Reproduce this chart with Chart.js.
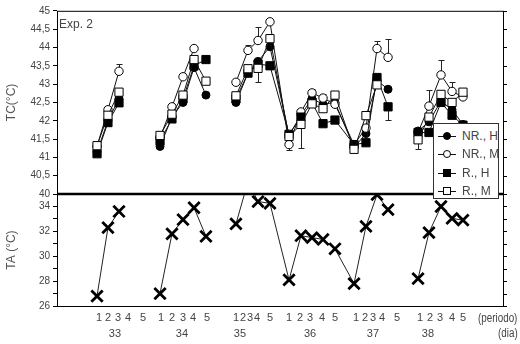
<!DOCTYPE html>
<html>
<head>
<meta charset="utf-8">
<script src="https://cdn.jsdelivr.net/npm/chart.js@4.4.1/dist/chart.umd.min.js"></script>
<style>
body{margin:0;background:#fff}
#wrap{position:relative;width:520px;height:344px}
canvas{display:block}
.txt{position:absolute;font:12px 'Liberation Sans',Arial,sans-serif;color:#444;white-space:nowrap;line-height:14px}
.narrow{transform:scaleX(0.82);transform-origin:left center}
#legend{position:absolute;left:433px;top:123px;width:64px;height:74px;border:1px solid #333;background:#fff;font:12px 'Liberation Sans',Arial,sans-serif;color:#444}
#legend .item{position:absolute;left:4px;height:14px;line-height:14px;white-space:nowrap}
#legend .ico{display:inline-block;position:relative;width:18px;height:14px;vertical-align:top;margin-right:6px}
#legend .ln{position:absolute;left:0;right:0;top:7px;height:1px;background:#111}
#legend .mk{position:absolute;box-sizing:border-box;border:1px solid #000;background:#fff}
#legend .circ{left:5px;top:3px;width:8px;height:8px;border-radius:50%}
#legend .sq{left:5px;top:3px;width:8px;height:8px}
#legend .fill{background:#000}
</style>
</head>
<body>
<div id="wrap">
  <canvas id="chart" width="520" height="344"></canvas>
  <div class="txt" style="left:59px;top:17px">Exp. 2</div>
  <div id="legend">
    <div class="item" style="top:5px"><span class="ico"><i class="ln"></i><i class="mk circ fill"></i></span>NR., H</div>
    <div class="item" style="top:23px"><span class="ico"><i class="ln"></i><i class="mk circ"></i></span>NR., M</div>
    <div class="item" style="top:42px"><span class="ico"><i class="ln"></i><i class="mk sq fill"></i></span>R., H</div>
    <div class="item" style="top:60px"><span class="ico"><i class="ln"></i><i class="mk sq"></i></span>R., M</div>
  </div>
  <div class="txt narrow" style="left:478px;top:311px">(periodo)</div>
  <div class="txt narrow" style="left:498px;top:326px">(dia)</div>
</div>
<script>
// periodos y dias (posicion en el eje x)
const periods = ['33', '34', '35', '36', '37', '38'];
const dayLabels = ['1', '2', '3', '4', '5'];
const dayX = [
  [3.59, 4.57, 5.56],
  [9.24, 10.31, 11.30, 12.29, 13.36],
  [16.05, 17.13, 18.03, 19.10],
  [20.81, 21.88, 22.87, 23.86, 24.93],
  [26.64, 27.71, 28.70, 29.69],
  [32.38, 33.36, 34.44, 35.43, 36.41]
];
// la linea sigue al periodo siguiente?
const joinNext = [false, false, true, true, false];
const dayTickX = [
  [3.77, 4.57, 5.47, 6.37, 7.71],
  [9.33, 10.31, 11.30, 12.20, 13.45],
  [16.05, 16.68, 17.31, 17.95, 19.10],
  [20.81, 21.79, 22.69, 23.77, 24.93],
  [26.82, 27.62, 28.34, 29.15, 30.49],
  [32.56, 33.45, 34.35, 35.43, 36.41]
];
const periodX = [5.2, 11.21, 16.41, 22.69, 28.34, 33.27];

// TC (°C)
const nrH = [
  [41.15, 42.0, 42.6],
  [41.3, 42.1, 42.5, 43.45, 42.7],
  [42.5, 43.3, 43.62, 44.02],
  [41.6, 42.16, 42.6, 42.45, 42.5],
  [41.27, 41.65, 43.1, 42.86],
  [41.72, 41.97, 42.54, 42.3, 41.9]
];
const nrM = [
  [41.3, 42.3, 43.35],
  [41.55, 42.38, 43.2, 43.97, null],
  [43.05, 43.92, 44.19, 44.7],
  [41.35, 42.24, 42.76, 42.62, 42.45],
  [41.35, 41.8, 43.97, 43.73],
  [41.68, 42.4, 43.25, 42.8, 42.65]
];
const rH = [
  [41.1, 41.95, 42.49],
  [41.45, 42.05, 42.6, 43.5, 43.67],
  [42.6, 43.3, 43.55, 43.5],
  [41.63, 42.1, 42.5, 41.92, 42.02],
  [41.35, 41.4, 43.18, 42.38],
  [41.68, 41.68, 42.5, 42.15, 41.88]
];
const rM = [
  [41.32, 42.15, 42.78],
  [41.6, 42.18, 42.7, 43.67, 43.08],
  [42.68, 43.42, 43.43, 44.24],
  [41.57, 41.9, 42.46, 42.33, 42.7],
  [41.22, 42.14, 42.98, null],
  [41.48, 42.1, 42.72, 42.5, 42.78]
];
// error (+ arriba, - abajo)
const nrMErr = [
  [0, 0, 0.2],
  [0, 0, 0, 0, 0],
  [0.1, 0.15, 0.38, 0],
  [-0.15, 0, 0.1, 0.1, 0],
  [-0.1, 0, 0.2, 0.5],
  [0, 0.45, 0.4, 0.27, 0]
];
const rHErr = [
  [0, 0, 0],
  [0, 0, 0, 0, 0],
  [0, 0, 0, 0],
  [0, 0, 0, 0, 0],
  [0, 0, 0, -0.35],
  [0, 0, 0, 0, 0]
];
const rMErr = [
  [0, 0, 0],
  [0, 0, 0, 0, 0],
  [0, 0, -0.38, 0],
  [0, -0.63, 0, 0, 0.12],
  [0, 0.08, 0, 0],
  [-0.24, 0, 0, 0, 0]
];

// TA (°C)
const ta = [
  [26.8, 32.3, 33.6],
  [27.0, 31.8, 32.95, 33.9, 31.6],
  [32.6, 36.0, 34.4, 34.25],
  [28.1, 31.65, 31.5, 31.35, 30.6],
  [27.8, 32.4, 34.95, 33.75],
  [28.2, 31.9, 34.0, 33.05, 32.9]
];

function toPoints(vals, errs) {
  const pts = [];
  vals.forEach((row, p) => {
    row.forEach((v, i) => pts.push({x: dayX[p][i], y: v, e: errs ? errs[p][i] : 0}));
    if (p < vals.length - 1 && !joinNext[p]) pts.push({x: dayX[p][row.length - 1] + 0.5, y: null});
  });
  return pts;
}

Chart.defaults.font.family = "'Liberation Sans', Arial, sans-serif";

function tcSet(data, style, radius, fill) {
  return {
    data: data, yAxisID: 'yTC', xAxisID: 'x', withErr: true,
    borderColor: '#111', borderWidth: 1, pointStyle: style, pointRadius: radius,
    pointBackgroundColor: fill, pointBorderColor: '#000', pointBorderWidth: 1,
    spanGaps: false, tension: 0
  };
}

const panelClip = {
  id: 'panelClip',
  beforeDatasetDraw(chart, args) {
    const ds = chart.data.datasets[args.index];
    const s = chart.scales[ds.yAxisID], a = chart.chartArea, ctx = chart.ctx;
    const top = ds.yAxisID === 'yTA' ? s.top - 5 : s.top - 10;
    const bottom = ds.yAxisID === 'yTA' ? s.bottom + 10 : s.bottom;
    ctx.save();
    ctx.beginPath();
    ctx.rect(a.left - 10, top, a.right - a.left + 20, bottom - top);
    ctx.clip();
  },
  afterDatasetDraw(chart) { chart.ctx.restore(); }
};

const errorBars = {
  id: 'errorBars',
  beforeDatasetsDraw(chart) {
    const ctx = chart.ctx, xs = chart.scales.x;
    chart.data.datasets.forEach(ds => {
      if (!ds.withErr) return;
      const ys = chart.scales[ds.yAxisID];
      ctx.save();
      ctx.strokeStyle = '#222';
      ctx.lineWidth = 1;
      ds.data.forEach(p => {
        if (p.y == null || !p.e) return;
        const px = Math.round(xs.getPixelForValue(p.x)) + 0.5;
        const y0 = ys.getPixelForValue(p.y), y1 = Math.round(ys.getPixelForValue(p.y + p.e)) + 0.5;
        ctx.beginPath();
        ctx.moveTo(px, y0); ctx.lineTo(px, y1);
        ctx.moveTo(px - 3, y1); ctx.lineTo(px + 3, y1);
        ctx.stroke();
      });
      ctx.restore();
    });
  }
};

const frame = {
  id: 'frame',
  afterDatasetsDraw(chart) {
    const {ctx, chartArea: a} = chart;
    const yTC = chart.scales.yTC, yTA = chart.scales.yTA;
    ctx.save();
    ctx.strokeStyle = '#000';
    ctx.lineWidth = 1;
    ctx.strokeRect(a.left + 0.5, a.top + 0.5, a.right - a.left, a.bottom - a.top);
    ctx.beginPath();
    [yTC, yTA].forEach(s => s.ticks.forEach(t => {
      const y = Math.round(s.getPixelForValue(t.value)) + 0.5;
      ctx.moveTo(a.right, y); ctx.lineTo(a.right + 4, y);
    }));
    ctx.stroke();
    ctx.lineWidth = 2.5;
    ctx.beginPath();
    ctx.moveTo(a.left, yTC.bottom); ctx.lineTo(a.right + 1, yTC.bottom);
    ctx.stroke();
    ctx.restore();
  }
};

new Chart(document.getElementById('chart'), {
  type: 'line',
  data: {
    datasets: [
      tcSet(toPoints(rM, rMErr), 'rect', 5.8, '#fff'),
      tcSet(toPoints(rH, rHErr), 'rect', 5.8, '#000'),
      tcSet(toPoints(nrM, nrMErr), 'circle', 4.2, '#fff'),
      tcSet(toPoints(nrH), 'circle', 4, '#000'),
      {
        data: toPoints(ta), yAxisID: 'yTA', xAxisID: 'x',
        borderColor: '#222', borderWidth: 1, pointStyle: 'crossRot', pointRadius: 8,
        pointBorderColor: '#000', pointBorderWidth: 2.8, spanGaps: false
      }
    ]
  },
  options: {
    responsive: false,
    animation: false,
    layout: {padding: {left: 0, top: 8, right: 17, bottom: 0}},
    plugins: {legend: {display: false}, tooltip: {enabled: false}},
    scales: {
      x: {
        type: 'linear', position: 'bottom', min: 0, max: 40,
        grid: {display: false, drawTicks: false}, border: {display: false},
        afterBuildTicks: s => { s.ticks = dayTickX.flat().map(v => ({value: v})); },
        afterFit: s => { s.height = 20; },
        ticks: {autoSkip: false, maxRotation: 0, padding: 5, color: '#444', font: {size: 11},
          callback: (v, i) => dayLabels[i % 5]}
      },
      xP: {
        type: 'linear', position: 'bottom', weight: 1, min: 0, max: 40,
        grid: {display: false, drawTicks: false}, border: {display: false},
        afterBuildTicks: s => { s.ticks = periodX.map(v => ({value: v})); },
        afterFit: s => { s.height = 18; },
        ticks: {autoSkip: false, maxRotation: 0, padding: 1, color: '#444', font: {size: 11},
          callback: (v, i) => periods[i]}
      },
      yTC: {
        type: 'linear', position: 'left', stack: 'y', stackWeight: 185, weight: 1,
        min: 40, max: 45,
        grid: {drawOnChartArea: false, tickLength: 4, color: '#000'}, border: {display: false},
        afterFit: s => { s.width = 57; },
        ticks: {stepSize: 0.5, autoSkip: false, padding: 3, color: '#444', font: {size: 10},
          callback: v => String(v).replace('.', ',')},
        title: {display: true, text: 'TC(°C)', color: '#555', font: {size: 12}, padding: {top: 4, bottom: 0}}
      },
      yTA: {
        type: 'linear', position: 'left', stack: 'y', stackWeight: 113, weight: 0,
        min: 26, max: 35,
        grid: {drawOnChartArea: false, tickLength: 4, color: '#000'}, border: {display: false},
        afterFit: s => { s.width = 57; },
        ticks: {stepSize: 1, autoSkip: false, padding: 3, color: '#444', font: {size: 10},
          callback: v => (v % 2 === 0 && v <= 34) ? String(v) : ''},
        title: {display: true, text: 'TA (°C)', color: '#555', font: {size: 12}, padding: {top: 4, bottom: 0}}
      }
    }
  },
  plugins: [panelClip, errorBars, frame]
});
</script>
</body>
</html>
